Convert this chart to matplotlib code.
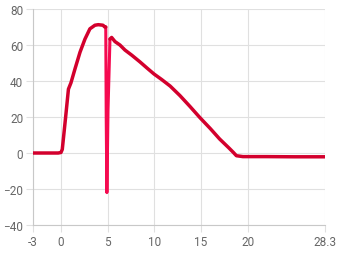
import matplotlib
matplotlib.use("Agg")
import matplotlib.pyplot as plt

# main series (before spike)
x1 = [-3, -2, -1, -0.3, 0.0, 0.14, 0.5, 0.8, 1.07, 1.5, 2.04, 2.57, 3.1, 3.64, 4.0, 4.5, 4.7, 4.8]
y1 = [0, 0, 0, 0, 0.3, 2, 20, 35.5, 39, 46.7, 56, 63.3, 69, 71, 71.3, 71, 70, 70]
# spike segment
xs = [4.8, 4.85, 4.92, 5.04, 5.25]
ys = [70, 20, -22, 24, 63.3]
# main series (after spike)
x2 = [5.25, 5.43, 5.79, 6.32, 6.86, 7.6, 8.47, 9.2, 9.97, 10.8, 11.7, 12.75, 13.8, 14.9, 16.0, 17.0, 18.0, 18.46, 18.8, 19.5, 22, 25, 28.3]
y2 = [63.3, 64.2, 61.9, 60.0, 57.2, 54.3, 50.6, 47.3, 43.9, 40.8, 37.2, 31.9, 26.0, 19.6, 13.6, 7.8, 2.8, 0.4, -1.5, -2.0, -2.0, -2.1, -2.1]

xticks = [-3, 0, 5, 10, 15, 20, 28.3]
xticklabels = ["-3", "0", "5", "10", "15", "20", "28.3"]
yticks = [-40, -20, 0, 20, 40, 60, 80]

fig = plt.figure(figsize=(3.4, 2.55), dpi=100)
ax = fig.add_axes([0.097, 0.1137, 0.859, 0.847])

ax.plot(xs, ys, color="#f50a50", lw=2.2, solid_capstyle="round", zorder=3)
ax.plot(x1, y1, color="#d3002d", lw=2.5, solid_capstyle="round", solid_joinstyle="round", zorder=4)
ax.plot(x2, y2, color="#d3002d", lw=2.5, solid_capstyle="round", solid_joinstyle="round", zorder=4)

ax.set_xlim(-3, 28.3)
ax.set_ylim(-40, 80)
ax.set_xticks(xticks)
ax.set_xticklabels(xticklabels)
ax.set_yticks(yticks)
ax.grid(True, color="#e0e0e0", lw=0.8)
for s in ["top", "right"]:
    ax.spines[s].set_visible(False)
for s in ["left", "bottom"]:
    ax.spines[s].set_color("#c8c8c8")
    ax.spines[s].set_linewidth(0.8)
ax.tick_params(axis="both", length=5, width=0.8, color="#e0e0e0",
               labelcolor="#666666", labelsize=8.5, pad=2)
for lbl in ax.get_xticklabels() + ax.get_yticklabels():
    lbl.set_family(["Roboto", "DejaVu Sans"])

fig.savefig("out.png", dpi=100)
